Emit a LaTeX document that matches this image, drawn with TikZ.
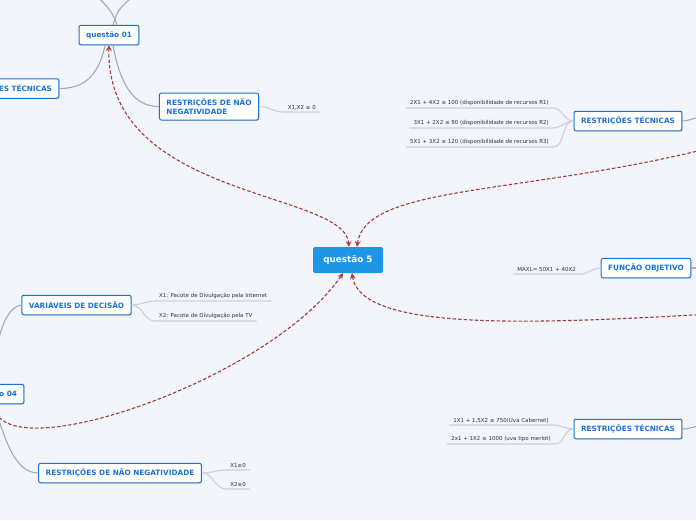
\documentclass[tikz,border=0pt]{standalone}
\usepackage{fontspec}
\setmainfont{DejaVu Sans}
\usetikzlibrary{arrows.meta,shadows}

\definecolor{bgpale}{HTML}{F3F5FD}
\definecolor{mapblue}{HTML}{1A72D6}
\definecolor{rootblue}{HTML}{1E96E6}
\definecolor{linkgray}{HTML}{A9AAB2}
\definecolor{leafgray}{HTML}{CDD1DC}
\definecolor{relred}{HTML}{A33B3B}

\begin{document}
\begin{tikzpicture}[
    x=1pt, y=1pt,
    topic/.style={rectangle, rounded corners=2pt, draw=mapblue, line width=1pt, fill=white, text=mapblue, font=\bfseries\fontsize{7.3}{9}\selectfont, inner xsep=7pt, minimum height=19.5pt, drop shadow={shadow xshift=0.8pt, shadow yshift=-0.8pt, opacity=0.25}},
    central/.style={rectangle, rounded corners=2pt, fill=rootblue, text=white, font=\bfseries\fontsize{8.8}{10}\selectfont, minimum width=70pt, minimum height=26pt},
    leaf/.style={inner xsep=4pt, inner ysep=2pt, text=black!80, font=\fontsize{5.5}{6.5}\selectfont},
    link/.style={draw=linkgray, line width=1.1pt},
    twig/.style={draw=leafgray, line width=1.1pt},
    arrow/.style={{Stealth[length=6pt,width=6pt,inset=2.4pt]}-{Stealth[length=6pt,width=6pt,inset=2.4pt]}, draw=relred, dash pattern=on 3.5pt off 2pt, line width=1.1pt}
]
\fill[bgpale] (0,0) rectangle (696,-520);
\clip (0,0) rectangle (696,-520);

% Central topic
\node[central] (q5) at (348,-260) {questão 5};

% questão 01 branch
\node[topic] (q01) at (109,-35) {questão 01};
\node[topic] (rt1) at (5,-88.5) {RESTRIÇÕES TÉCNICAS};
\node[topic, align=left, minimum height=27pt] (nn1) at (209,-106.5) {RESTRIÇÕES DE NÃO\\NEGATIVIDADE};
\node[leaf, anchor=south east] (x12) at (320,-112) {X1,X2 ≥ 0};

% Right side topics
\node[topic] (rt2) at (628,-121) {RESTRIÇÕES TÉCNICAS};
\node[leaf, anchor=south east] (r1) at (553,-108) {2X1 + 4X2 ≤ 100 (disponibilidade de recursos R1)};
\node[leaf, anchor=south east] (r2) at (553,-128) {3X1 + 2X2 ≤ 90 (disponibilidade de recursos R2)};
\node[leaf, anchor=south east] (r3) at (553,-147) {5X1 + 3X2 ≤ 120 (disponibilidade de recursos R3)};

\node[topic] (fo) at (646,-268) {FUNÇÃO OBJETIVO};
\node[leaf, anchor=south east] (mx) at (580,-274) {MAXL= 50X1 + 40X2};

\node[topic] (rt3) at (628,-429) {RESTRIÇÕES TÉCNICAS};
\node[leaf, anchor=south east] (c1) at (553,-425) {1X1 + 1,5X2 ≤ 750(Uva Cabernet)};
\node[leaf, anchor=south east] (c2) at (555,-444) {2x1 + 1X2 ≤ 1000 (uva tipo merlot)};

% questão 04 branch
\node[topic] (q04) at (-6,-394) {questão 04};
\node[topic] (vd) at (76.5,-305) {VARIÁVEIS DE DECISÃO};
\node[leaf, anchor=south west] (d1) at (155,-301) {X1: Pacote de Divulgação pela Internet};
\node[leaf, anchor=south west] (d2) at (155,-321) {X2: Pacote de Divulgação pela TV};
\node[topic] (nn2) at (120,-473) {RESTRIÇÕES DE NÃO NEGATIVIDADE};
\node[leaf, anchor=south east] (n1) at (250,-470) {X1≥0};
\node[leaf, anchor=south east] (n2) at (250,-489) {X2≥0};

% Off-page parents
\coordinate (up1) at (98,3);
\coordinate (up2) at (132,3);
\coordinate (out2) at (702,-117);
\coordinate (out3) at (702,-268);
\coordinate (out4) at (702,-426);
\coordinate (far1) at (710,-148);
\coordinate (far2) at (710,-314);

% Branch lines
\draw[link] ([xshift=8pt]q01.north) .. controls (112,-12) .. (up1);
\draw[link] ([xshift=4pt]q01.north) .. controls (118,-10) .. (up2);
\draw[link] ([xshift=-4pt]q01.south) .. controls (98,-80) and (80,-88.5) .. (rt1.east);
\draw[link] ([xshift=4pt]q01.south) .. controls (122,-95) and (140,-106.5) .. (nn1.west);
\draw[twig] (nn1.east) to[out=0,in=180] (x12.south west) -- (x12.south east);

\draw[link] (rt2.east) to[out=0,in=180] (out2);
\draw[twig] (rt2.west) to[out=180,in=0] (r1.south east) -- (r1.south west);
\draw[twig] (rt2.west) to[out=180,in=0] (r2.south east) -- (r2.south west);
\draw[twig] (rt2.west) to[out=180,in=0] (r3.south east) -- (r3.south west);

\draw[link] (fo.east) -- (out3);
\draw[twig] (fo.west) to[out=180,in=0] (mx.south east) -- (mx.south west);

\draw[link] (rt3.east) to[out=0,in=180] (out4);
\draw[twig] (rt3.west) to[out=180,in=0] (c1.south east) -- (c1.south west);
\draw[twig] (rt3.west) to[out=180,in=0] (c2.south east) -- (c2.south west);

\draw[link] (q04.north) .. controls (-6,-350) and (2,-308) .. (vd.west);
\draw[link] (q04.south) .. controls (5,-440) and (15,-473) .. (nn2.west);
\draw[twig] (vd.east) to[out=0,in=180] (d1.south west) -- (d1.south east);
\draw[twig] (vd.east) to[out=0,in=180] (d2.south west) -- (d2.south east);
\draw[twig] (nn2.east) to[out=0,in=180] (n1.south west) -- (n1.south east);
\draw[twig] (nn2.east) to[out=0,in=180] (n2.south west) -- (n2.south east);

% Relationships
\draw[arrow] (q01.south) .. controls (105,-200) and (345,-190) .. ([xshift=1pt]q5.north);
\draw[arrow] (far1) .. controls (520,-195) and (365,-185) .. ([xshift=9pt]q5.north);
\draw[arrow] (q04.south) .. controls (5,-470) and (270,-380) .. ([xshift=-5pt]q5.south);
\draw[arrow] ([xshift=4pt]q5.south) .. controls (360,-330) and (520,-325) .. (far2);
\end{tikzpicture}
\end{document}
